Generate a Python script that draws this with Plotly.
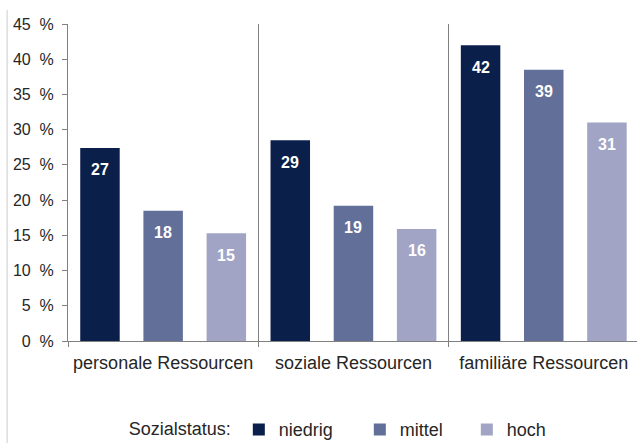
import plotly.graph_objects as go

categories = ["personale Ressourcen", "soziale Ressourcen", "familiäre Ressourcen"]
series_names = ["niedrig", "mittel", "hoch"]
values_niedrig = [27.4, 28.5, 42.0]
values_mittel = [18.5, 19.2, 38.5]
values_hoch = [15.3, 15.9, 31.0]
labels_niedrig = ["27", "29", "42"]
labels_mittel = ["18", "19", "39"]
labels_hoch = ["15", "16", "31"]
y_ticks = [0, 5, 10, 15, 20, 25, 30, 35, 40, 45]

colors = ["#0b1f4b", "#626f99", "#a1a4c5"]
legend_widths = [76, 62, None]
series_values = [values_niedrig, values_mittel, values_hoch]
series_labels = [labels_niedrig, labels_mittel, labels_hoch]

FONT = "Liberation Sans, Arial, sans-serif"
BARGAP = 0.004

fig = go.Figure()
for name, vals, col, lw in zip(series_names, series_values, colors, legend_widths):
    kw = {} if lw is None else dict(legendwidth=lw)
    fig.add_trace(go.Bar(x=categories, y=vals, name=name,
                         marker=dict(color=col, line=dict(width=0)), **kw))

slot = (1 - BARGAP) / len(series_names)
annotations = []
for i, (vals, labs) in enumerate(zip(series_values, series_labels)):
    for j, (v, lab) in enumerate(zip(vals, labs)):
        annotations.append(dict(
            x=j + (i - 1) * slot, y=v, xref="x", yref="y", text=lab, showarrow=False,
            yshift=-22, yanchor="middle",
            font=dict(family=FONT, size=16, color="white", weight="bold"),
        ))

fig.update_layout(
    width=637, height=443, autosize=False,
    margin=dict(l=68, r=0, t=24, b=102),
    paper_bgcolor="white", plot_bgcolor="white",
    barmode="group", bargap=BARGAP, bargroupgap=0.375,
    font=dict(family=FONT, size=15, color="#262626"),
    annotations=annotations,
    showlegend=True,
    legend=dict(
        orientation="h", xref="container", yref="container",
        x=0.199, xanchor="left", y=0.03, yanchor="middle",
        title=dict(text="Sozialstatus:", side="left", font=dict(size=18, color="#262626")),
        font=dict(size=18, color="#262626"),
        itemclick=False, traceorder="normal",
    ),
    shapes=[dict(type="line", xref="paper", yref="paper", x0=-0.107, x1=-0.107, y0=-0.33, y1=1.044,
                 line=dict(color="#cccccc", width=1))],
)

fig.update_xaxes(
    type="category", categoryorder="array", categoryarray=categories,
    range=[-0.5, 2.49],
    tickson="boundaries", ticks="outside", ticklen=5, tickcolor="#808080",
    showgrid=True, gridcolor="#808080", gridwidth=1,
    showline=True, linecolor="#808080", linewidth=1,
    tickfont=dict(size=18, color="#262626"),
    ticklabelstandoff=5,
)
fig.update_yaxes(
    range=[0, 45], tickvals=y_ticks, ticktext=[f"{t}\u00a0\u00a0%" for t in y_ticks],
    ticks="outside", ticklen=5, tickcolor="#808080",
    showgrid=False, zeroline=False,
    showline=True, linecolor="#808080", linewidth=1,
    tickfont=dict(size=16, color="#262626"),
    ticklabelstandoff=5,
)

fig.write_html("out.html", config={"displayModeBar": False},
               post_script="document.body.style.margin='0px';")
